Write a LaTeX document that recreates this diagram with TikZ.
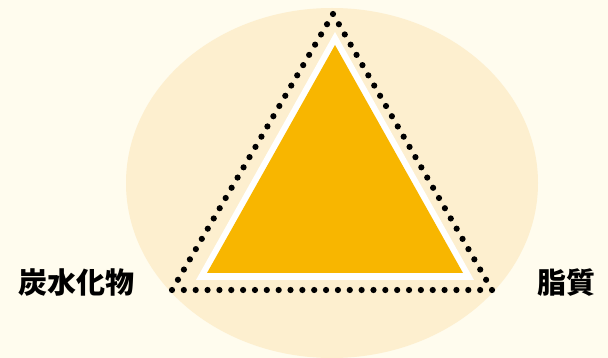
\documentclass[tikz,border=0pt]{standalone}
\usepackage{fontspec}
\newfontfamily\cjk{Noto Sans CJK JP}
\usetikzlibrary{calc}
\definecolor{bg}{HTML}{FFFCEE}
\definecolor{halo}{HTML}{FDEFCF}
\definecolor{tri}{HTML}{F8B600}
\tikzset{
  lbl/.style={font=\cjk\bfseries\fontsize{29}{32}\selectfont, text=black, inner sep=0pt},
  dot/.style={fill=black}
}
\begin{document}
\begin{tikzpicture}[x=1pt,y=-1pt]
\fill[bg] (0,0) rectangle (608,358);
\useasboundingbox (0,0) rectangle (608,358);
\fill[halo] (332,183) ellipse [x radius=206, y radius=175];
\fill[white] (335,32) -- (196,280) -- (474,280) -- cycle;
\fill[tri] (335,45) -- (207,273) -- (463,273) -- cycle;
\coordinate (top) at (333,14);
\coordinate (bl) at (172,290);
\coordinate (br) at (492,290);
\foreach \a/\b in {top/bl, bl/br, br/top}{
  \foreach \i in {0,...,26}{
    \fill[dot] ($(\a)!\i/27!(\b)$) circle (3.1);
  }
}
\node[lbl] (carb) at (77,283) {炭水化物};
\node[lbl] (fat) at (566,283) {脂質};
\end{tikzpicture}
\end{document}
